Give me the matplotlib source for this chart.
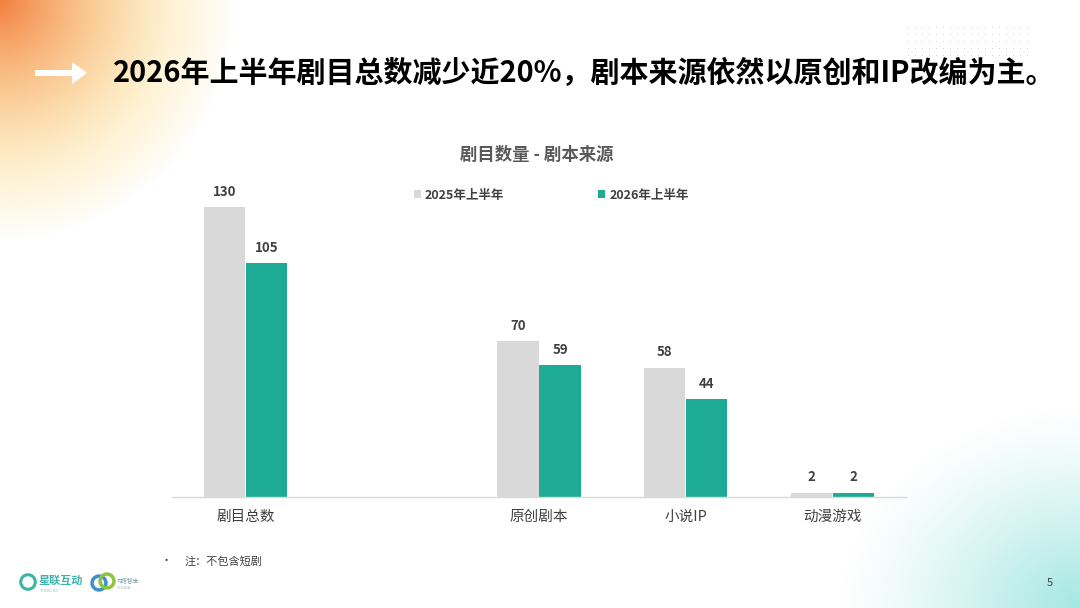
import numpy as np
import matplotlib
matplotlib.use("Agg")
import matplotlib.pyplot as plt
from matplotlib.patches import FancyArrow

plt.rcParams['font.family'] = ['Noto Sans CJK SC', 'DejaVu Sans']

# ---- data ----
categories = ['剧目总数', '', '原创剧本', '小说IP', '动漫游戏']
h1_2025 = [130, np.nan, 70, 58, 2]
h1_2026 = [105, np.nan, 59, 44, 2]
series_names = ['2025年上半年', '2026年上半年']
chart_title = '剧目数量 - 剧本来源'
headline = '2026年上半年剧目总数减少近20%，剧本来源依然以原创和IP改编为主。'
footnote = '注：不包含短剧'
page_no = '5'

C_GRAY = '#d9d9d9'
C_TEAL = '#1dab96'
C_TEXT = '#404040'

W, H, DPI = 1080, 608, 100
fig = plt.figure(figsize=(W / DPI, H / DPI), dpi=DPI)

# ---- background gradients ----
bg = fig.add_axes([0, 0, 1, 1], zorder=-10)
yy, xx = np.mgrid[0:H, 0:W]
img = np.ones((H, W, 3))
# orange -> yellow top-left
d1 = np.sqrt((xx / 235.0) ** 2 + (yy / 240.0) ** 2)
a1 = np.clip(1 - d1, 0, 1) ** 0.9
t = np.clip(d1 / 0.75, 0, 1)[..., None]
orange = np.array([0.95, 0.50, 0.25])
yellow = np.array([0.99, 0.84, 0.45])
col1 = orange * (1 - t) + yellow * t
# teal bottom-right
d2 = np.sqrt(((W - xx) / 240.0) ** 2 + ((H - yy) / 200.0) ** 2)
a2 = np.clip(1 - d2, 0, 1) ** 1.2 * 0.8
teal = np.array([0.55, 0.88, 0.86])
img = img * (1 - a1[..., None]) + col1 * a1[..., None]
img = img * (1 - a2[..., None]) + teal * a2[..., None]
bg.imshow(np.clip(img, 0, 1), extent=[0, W, H, 0], aspect='auto')
bg.set_xlim(0, W)
bg.set_ylim(H, 0)
bg.axis('off')

# dot grid top right
gx, gy = np.meshgrid(np.arange(908, 1032, 7), np.arange(27, 57, 7))
bg.scatter(gx.ravel(), gy.ravel(), s=0.6, color='#cfcfcf', lw=0)

# arrow
bg.add_patch(FancyArrow(35, 73, 52, 0, width=6, head_width=22, head_length=15,
                        color='white', length_includes_head=True, lw=0))

# headline
bg.text(113, 73, headline, fontsize=20.9, fontweight='bold', color='black',
        va='center', ha='left')
# footnote
bg.text(166, 561, '•', fontsize=8, color=C_TEXT, va='center', ha='center')
bg.text(185, 561, footnote, fontsize=8, color=C_TEXT, va='center', ha='left')
bg.text(1050, 583, page_no, fontsize=8, color=C_TEXT, va='center', ha='center')
# logos (text approximations)
bg.scatter([28], [582], s=110, facecolors='none', edgecolors='#3fb3a8', lw=2.2)
bg.text(39, 580, '星联互动', fontsize=8, color='#3fb3a8', va='center', ha='left',
        fontweight='bold')
bg.text(40, 591, 'STARLINK', fontsize=3, color='#8fcfc8', va='center', ha='left')
bg.scatter([99, 107], [583, 581], s=100, facecolors='none',
           edgecolors=['#3f8fd0', '#8cc63f'], lw=2.5)
bg.text(117, 580, '勾搭智库', fontsize=4, color='#7aa0b0', va='center', ha='left')
bg.text(117, 588, 'GOUDA', fontsize=3, color='#9ab5c0', va='center', ha='left')

# ---- chart axes ----
left, right = 172, 906
base_y = 497
ymax = 140
px_per_unit = 2.23
top_y = base_y - ymax * px_per_unit
ax = fig.add_axes([left / W, (H - base_y) / H, (right - left) / W,
                   (base_y - top_y) / H])
ax.patch.set_alpha(0)

x = np.arange(len(categories))
bw = 0.28
off = 0.143
b1 = ax.bar(x - off, h1_2025, width=bw, color=C_GRAY, label=series_names[0])
b2 = ax.bar(x + off, h1_2026, width=bw, color=C_TEAL, label=series_names[1])

for bars, vals in ((b1, h1_2025), (b2, h1_2026)):
    for rect, v in zip(bars, vals):
        if np.isnan(v):
            continue
        ax.annotate(f'{v:g}', (rect.get_x() + rect.get_width() / 2, v),
                    xytext=(0, 6), textcoords='offset points',
                    ha='center', va='bottom', fontsize=9.5, fontweight='bold',
                    color=C_TEXT)

ax.set_xlim(-0.5, len(categories) - 0.5)
ax.set_ylim(0, ymax)
ax.set_xticks(x)
ax.set_xticklabels(categories, fontsize=10.5, color=C_TEXT)
ax.tick_params(axis='x', length=0, pad=9)
ax.set_yticks([])
for s in ('top', 'right', 'left'):
    ax.spines[s].set_visible(False)
ax.spines['bottom'].set_color('#d9d9d9')
ax.spines['bottom'].set_linewidth(1)

# chart title and legend (figure coords)
fig.text(537 / W, 1 - 155 / H, chart_title, fontsize=12.5, fontweight='bold',
         color='#595959', ha='center', va='center')
leg = fig.legend(handles=[b1, b2], labels=series_names, loc='center',
                 bbox_to_anchor=(551 / W, 1 - 195 / H), ncol=2, frameon=False,
                 fontsize=9, handlelength=0.6, handleheight=0.6,
                 handletextpad=0.3, columnspacing=7.5)
for t_ in leg.get_texts():
    t_.set_color(C_TEXT)
    t_.set_fontweight('bold')

fig.savefig('out.png', dpi=DPI)
